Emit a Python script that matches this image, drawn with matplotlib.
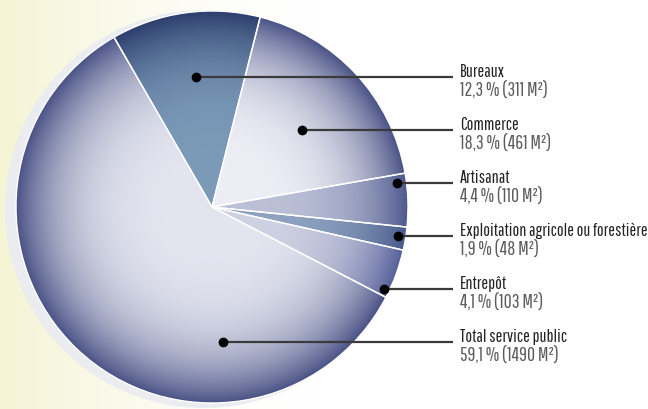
import numpy as np
import matplotlib
matplotlib.use("Agg")
import matplotlib.pyplot as plt
from matplotlib.colors import to_rgb
from matplotlib.patches import Circle

categories = ["Bureaux", "Commerce", "Artisanat",
              "Exploitation agricole ou forestière", "Entrepôt", "Total service public"]
percents = [12.3, 18.3, 4.4, 1.9, 4.1, 59.1]
areas = [311, 461, 110, 48, 103, 1490]
pct_labels = ["12,3", "18,3", "4,4", "1,9", "4,1", "59,1"]

# styles
center_cols = ["#7c9bb9", "#eeeff6", "#bcc1d7", "#8fa3c1", "#cfd2e3", "#e3e5ef"]
edge_cols = ["#2c3e6d", "#4a5386", "#4d598d", "#485a8b", "#56609a", "#4a5386"]
font = ["Pathway Gothic One", "DejaVu Sans"]

W, H = 648, 409
fig = plt.figure(figsize=(W / 100, H / 100), dpi=100)
ax = fig.add_axes([0, 0, 1, 1])

# background gradient (cream left -> white right)
xs = np.linspace(0, 1, 600)
t = np.clip(xs * W / 320, 0, 1)
t = 1 - (1 - t) ** 1.6
c0 = np.array(to_rgb("#f5f4d5"))
c1 = np.array([1, 1, 1])
bg = (c0[None, :] * (1 - t[:, None]) + c1[None, :] * t[:, None])[None, :, :]
ax.imshow(bg, extent=[0, W, 0, H], aspect="auto", zorder=0)

cx, cy, R = 212, 409 - 207, 196

# shadow
ax.add_patch(Circle((cx - 8, cy - 2), R + 3, color="#eaecef", zorder=1, lw=0))

wedges, _ = ax.pie(percents, center=(cx, cy), radius=R, startangle=120,
                   counterclock=False, frame=True,
                   wedgeprops=dict(edgecolor="white", linewidth=1.0, facecolor="none"))

n = 400
gx = np.linspace(cx - R, cx + R, n)
gy = np.linspace(cy - R, cy + R, n)
GX, GY = np.meshgrid(gx, gy)
rr = np.clip(np.hypot(GX - cx, GY - cy) / R, 0, 1)
f = rr ** 3.8
for w, cc, ec in zip(wedges, center_cols, edge_cols):
    a = np.array(to_rgb(cc)); b = np.array(to_rgb(ec))
    img = a[None, None, :] * (1 - f[..., None]) + b[None, None, :] * f[..., None]
    im = ax.imshow(img, extent=[cx - R, cx + R, cy - R, cy + R], origin="lower",
                   zorder=2, aspect="auto", interpolation="bilinear")
    im.set_clip_path(w)
    w.set_zorder(3)

ax.set_xlim(0, W)
ax.set_ylim(0, H)
ax.set_aspect("auto")
ax.axis("off")

# labels
row_y0, row_step = 409 - 77, 53
dot_x = [196, 302, 397, 398, 384, 223]
line_end = 453
text_x = 460
for i, cat in enumerate(categories):
    y = row_y0 - i * row_step
    ax.plot([dot_x[i], line_end], [y, y], color="#3a3a3a", lw=1.6, zorder=5,
            solid_capstyle="butt")
    ax.plot([dot_x[i]], [y], "o", color="black", ms=6, zorder=6)
    ax.text(text_x, y, cat, fontsize=12.9, color="#222222", family=font,
            ha="left", va="baseline", zorder=6)
    ax.text(text_x, y - 19, f"{pct_labels[i]} % ({areas[i]} M²)", fontsize=14,
            color="#5c5c5c", family=font,
            ha="left", va="baseline", zorder=6)

fig.savefig("out.png", dpi=100)
